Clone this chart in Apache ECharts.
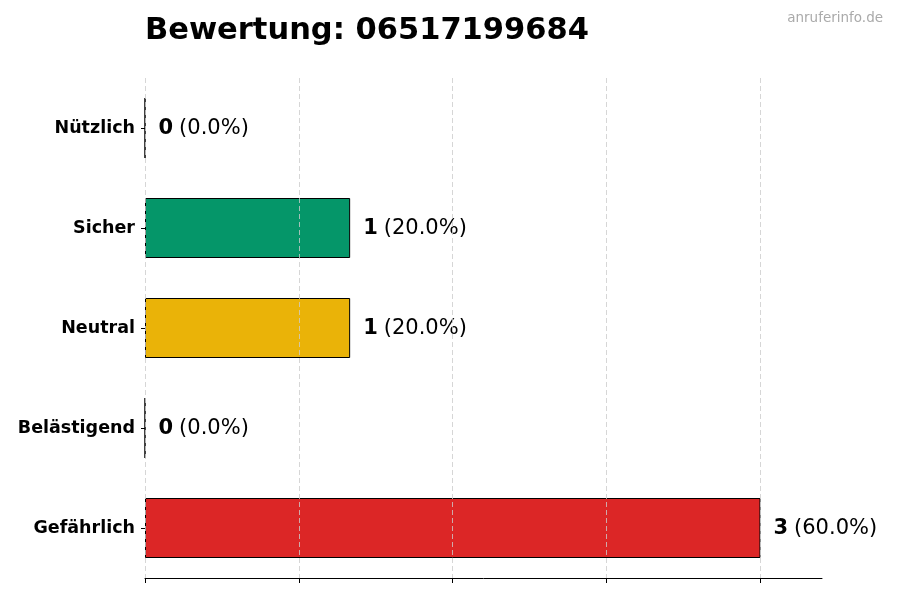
<!DOCTYPE html>
<html>
<head>
<meta charset="utf-8">
<script src="https://cdn.jsdelivr.net/npm/echarts@6/dist/echarts.min.js"></script>
<style>
  html, body { margin: 0; padding: 0; background: #fff; }
  #chart { width: 900px; height: 600px; }
</style>
</head>
<body>
<div id="chart"></div>
<script>
// Kategorien von oben nach unten
var categories = ['Nützlich', 'Sicher', 'Neutral', 'Belästigend', 'Gefährlich'];
var counts = [0, 1, 1, 0, 3];
var barColors = ['#059669', '#059669', '#EAB308', '#DC2626', '#DC2626'];
var xTicks = [0, 0.75, 1.5, 2.25, 3];

var total = counts.reduce(function(a, b) { return a + b; }, 0);

var chart = echarts.init(document.getElementById('chart'));

var font = 'DejaVu Sans';

var option = {
  backgroundColor: '#fff',
  animation: false,
  title: [{
    text: 'Bewertung: 06517199684',
    left: 145,
    top: 16,
    padding: 0,
    textStyle: { fontFamily: font, fontSize: 30.5, fontWeight: 'bold', color: '#000' }
  }, {
    text: 'anruferinfo.de',
    right: 17,
    top: 11,
    padding: 0,
    textStyle: { fontFamily: font, fontSize: 13.5, fontWeight: 'normal', color: '#aaa' }
  }],
  grid: { left: 145, right: 78, top: 78, bottom: 22 },
  xAxis: {
    type: 'value',
    min: 0,
    max: 3.3,
    interval: 0.75,
    axisLine: { show: true, lineStyle: { color: '#000', width: 1 } },
    axisTick: { show: true, length: 5, customValues: xTicks, lineStyle: { color: '#000' } },
    axisLabel: { show: false },
    splitLine: { show: false }
  },
  yAxis: {
    type: 'category',
    inverse: true,
    data: categories,
    axisLine: { show: false },
    axisTick: { show: true, alignWithLabel: true, length: 4, lineStyle: { color: '#000' } },
    axisLabel: { fontFamily: font, fontSize: 17.5, fontWeight: 'bold', color: '#000', margin: 10, padding: [6, 0, 0, 0] },
    splitLine: { show: false }
  },
  series: [{
    type: 'bar',
    barWidth: 60,
    z: 2,
    data: counts.map(function(v, i) {
      return {
        value: v,
        itemStyle: { color: barColors[i], borderColor: '#000', borderWidth: 1 }
      };
    }),
    label: {
      show: true,
      position: 'right',
      distance: 13,
      formatter: function(p) {
        var pct = (p.value / total * 100).toFixed(1);
        return '{b|' + p.value + '}{n|(' + pct + '%)}';
      },
      rich: {
        b: { fontFamily: font, fontSize: 21, fontWeight: 'bold', color: '#000', padding: [2, 0, 0, 0] },
        n: { fontFamily: font, fontSize: 21, color: '#000', padding: [2, 0, 0, 6] }
      }
    },
    // Gitterlinien über den Balken, wie im Original
    markLine: {
      silent: true,
      symbol: 'none',
      label: { show: false },
      lineStyle: { color: '#ccc', type: [5, 3], width: 0.8 },
      data: xTicks.map(function(t) { return { xAxis: t }; })
    }
  }]
};

chart.setOption(option);
</script>
</body>
</html>
